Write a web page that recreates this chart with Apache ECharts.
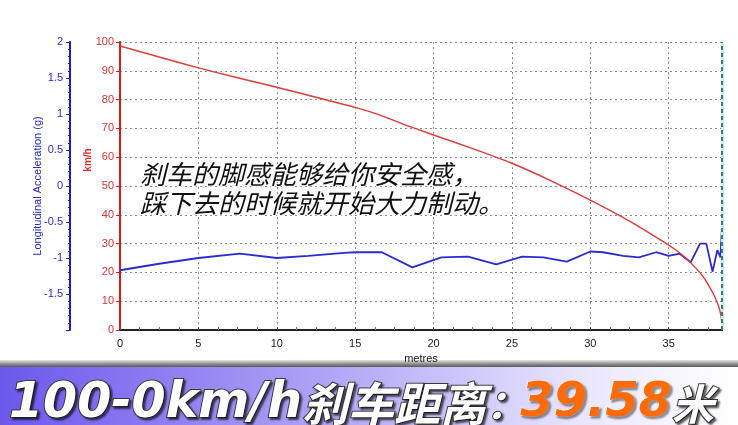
<!DOCTYPE html>
<html>
<head>
<meta charset="utf-8">
<script src="https://cdn.jsdelivr.net/npm/echarts@6/dist/echarts.min.js"></script>
<style>
html,body{margin:0;padding:0;background:#fff;}
#c{width:738px;height:425px;}
</style>
</head>
<body>
<div id="c"></div>
<script>
// Speed (km/h) vs distance (metres)
const speedDistance = [0, 2.5, 5, 7.5, 10, 12.5, 15, 16.6, 18, 20, 22.5, 25, 27.5, 30, 32.5, 35, 35.5, 36, 36.75, 37.2, 37.6, 37.9, 38.2, 38.35, 38.4];
const speedKmh      = [98.6, 94.8, 91, 87.6, 84.3, 80.8, 77.3, 74.6, 71.6, 67.7, 63, 57.9, 51.8, 45.1, 37.8, 29.5, 27.6, 25.4, 21.4, 18.5, 15, 12, 8, 4.5, 1.5];

// Longitudinal acceleration (g) vs distance (metres)
const accelDistance = [0, 2.5, 5, 7.65, 10, 12, 14.3, 15, 16.7, 18.65, 20.5, 22.2, 24.0, 25.65, 27, 28.5, 30, 30.8, 32.1, 33.1, 34.2, 35, 35.7, 36.4, 37.0, 37.4, 37.8, 38.1, 38.3, 38.4];
const accelG        = [-1.17, -1.08, -1.0, -0.94, -1.0, -0.97, -0.93, -0.92, -0.92, -1.13, -0.99, -0.98, -1.09, -0.98, -0.99, -1.05, -0.91, -0.92, -0.97, -0.99, -0.92, -0.97, -0.94, -1.06, -0.8, -0.8, -1.19, -0.89, -0.99, -0.56];

const xTicks = { min: 0, max: 38.4, interval: 5 };
const speedTicks = { min: 0, max: 100, interval: 10 };
const accelTicks = { min: -2, max: 2, interval: 0.5 };

const annotation = '刹车的脚感能够给你安全感，\n踩下去的时候就开始大力制动。';
const bannerParts = ['100-0km/h', '刹车距离', '：', '39.58', '米'];

const chart = echarts.init(document.getElementById('c'), null, {renderer: 'canvas'});

const gridDash = {color: '#8a8a8a', type: [2, 3], width: 1};
const shadowStyle = {textBorderColor: '#3a3a3a', textBorderWidth: 2, textShadowColor: 'rgba(0,0,0,0.55)', textShadowOffsetX: 2, textShadowOffsetY: 2, textShadowBlur: 2};

chart.setOption({
  backgroundColor: '#ffffff',
  animation: false,
  grid: {left: 120, right: 16, top: 42, bottom: 95, containLabel: false},
  graphic: [
    {
      type: 'rect', z: -1, silent: true,
      shape: {x: 0, y: 360, width: 738, height: 7},
      style: {fill: new echarts.graphic.LinearGradient(0, 0, 0, 1, [
        {offset: 0, color: '#e6e6e6'}, {offset: 0.6, color: '#8a8a8a'}, {offset: 1, color: '#5a5a5a'}
      ])}
    },
    {
      type: 'rect', z: -1, silent: true,
      shape: {x: 0, y: 367, width: 738, height: 58},
      style: {fill: new echarts.graphic.LinearGradient(0, 0, 1, 0, [
        {offset: 0, color: '#6a58ec'}, {offset: 0.45, color: '#b0a6f6'}, {offset: 0.8, color: '#ebe8fd'}, {offset: 1, color: '#ffffff'}
      ])}
    }
  ],
  title: [
    {
      text: annotation,
      left: 135, top: 155,
      textStyle: {
        fontFamily: '"Noto Sans CJK SC", sans-serif',
        fontSize: 26, fontWeight: 'normal', fontStyle: 'italic',
        color: '#111', lineHeight: 29,
        textBorderColor: '#fff', textBorderWidth: 2
      }
    },
    {
      text: '{a|' + bannerParts[0] + '}{b|' + bannerParts[1] + '}{e|' + bannerParts[2] + '}{c|' + bannerParts[3] + '}{d|' + bannerParts[4] + '}',
      left: 4, top: 375,
      textStyle: {
        rich: {
          a: Object.assign({fontFamily: '"DejaVu Sans", sans-serif', fontWeight: 'bold', fontStyle: 'italic', fontSize: 49, color: '#fff', lineHeight: 48}, shadowStyle),
          b: Object.assign({fontFamily: '"Noto Sans CJK SC", sans-serif', fontWeight: 'bold', fontStyle: 'italic', fontSize: 46, color: '#fff', lineHeight: 48}, shadowStyle),
          e: Object.assign({fontFamily: '"Noto Sans CJK SC", sans-serif', fontWeight: 'bold', fontStyle: 'italic', fontSize: 40, color: '#fff', lineHeight: 48, width: 34}, shadowStyle),
          c: {fontFamily: '"DejaVu Sans", sans-serif', fontWeight: 'bold', fontStyle: 'italic', fontSize: 48, color: '#ff6a0a', lineHeight: 48,
              textBorderColor: '#ffffff', textBorderWidth: 1, textShadowColor: 'rgba(0,0,0,0.4)', textShadowOffsetX: 2, textShadowOffsetY: 2, textShadowBlur: 2},
          d: Object.assign({fontFamily: '"Noto Sans CJK SC", sans-serif', fontWeight: 'bold', fontStyle: 'italic', fontSize: 42, color: '#fff', lineHeight: 48}, shadowStyle)
        }
      }
    }
  ],
  xAxis: [
    {
      type: 'value', position: 'bottom',
      min: xTicks.min, max: xTicks.max, interval: xTicks.interval,
      name: 'metres', nameLocation: 'middle', nameGap: 21,
      nameTextStyle: {fontFamily: '"Liberation Sans", Arial, sans-serif', fontSize: 11, color: '#222'},
      axisLine: {show: true, onZero: false, lineStyle: {color: '#111', width: 2}},
      axisTick: {show: true, inside: true, length: 3, lineStyle: {color: '#555'}},
      minorTick: {show: true, splitNumber: 4, length: 3, lineStyle: {color: '#777'}},
      axisLabel: {showMaxLabel: false, margin: 8, fontFamily: '"Liberation Sans", Arial, sans-serif', fontSize: 11, color: '#222'},
      splitLine: {show: true, lineStyle: gridDash}
    },
    {
      type: 'value', position: 'top',
      min: xTicks.min, max: xTicks.max,
      axisLine: {show: true, lineStyle: {color: '#222', width: 2}},
      axisTick: {show: false}, axisLabel: {show: false}, splitLine: {show: false}
    }
  ],
  yAxis: [
    {
      type: 'value', position: 'left',
      min: speedTicks.min, max: speedTicks.max, interval: speedTicks.interval,
      name: 'km/h', nameLocation: 'middle', nameGap: 27, nameRotate: 90, nameMoveOverlap: false,
      nameTextStyle: {fontFamily: '"Liberation Sans", Arial, sans-serif', fontSize: 10, fontWeight: 'bold', color: '#e02828', padding: [0, 0, 0, 52]},
      axisLine: {show: true, onZero: false, lineStyle: {color: '#e01818', width: 2}},
      axisTick: {show: true, length: 4, lineStyle: {color: '#e01818'}},
      axisLabel: {margin: 6, fontFamily: '"Liberation Sans", Arial, sans-serif', fontSize: 11, color: '#e03030'},
      splitLine: {show: true, lineStyle: gridDash}
    },
    {
      type: 'value', position: 'left', offset: 50,
      min: accelTicks.min, max: accelTicks.max, interval: accelTicks.interval,
      name: 'Longitudinal Acceleration (g)', nameLocation: 'middle', nameGap: 27, nameRotate: 90, nameMoveOverlap: false,
      nameTextStyle: {fontFamily: '"Liberation Sans", Arial, sans-serif', fontSize: 11, color: '#2828c8'},
      axisLine: {show: true, onZero: false, lineStyle: {color: '#1a1ad0', width: 2}},
      axisTick: {show: true, length: 4, lineStyle: {color: '#1a1ad0'}},
      minorTick: {show: true, splitNumber: 5, length: 2, lineStyle: {color: '#1a1ad0'}},
      axisLabel: {margin: 7, fontFamily: '"Liberation Sans", Arial, sans-serif', fontSize: 11, color: '#2a2acc',
                  formatter: v => (v === accelTicks.min ? '' : String(v))},
      splitLine: {show: false}
    }
  ],
  series: [
    {
      type: 'line', xAxisIndex: 0, yAxisIndex: 1, z: 3,
      data: accelDistance.map((d, i) => [d, accelG[i]]),
      symbol: 'none', smooth: false,
      lineStyle: {color: '#2b2bd0', width: 1.8}
    },
    {
      type: 'line', xAxisIndex: 0, yAxisIndex: 0, z: 4,
      data: speedDistance.map((d, i) => [d, speedKmh[i]]),
      symbol: 'none', smooth: 0.2,
      lineStyle: {color: '#e33a3a', width: 1.4},
      markLine: {
        silent: true, symbol: ['none', 'none'], label: {show: false},
        data: [
          {xAxis: xTicks.max, lineStyle: {color: '#bff0f0', width: 3, type: 'solid'}},
          {xAxis: xTicks.max, lineStyle: {color: '#2a4a4a', width: 1.5, type: [4, 3]}}
        ]
      }
    }
  ]
});
</script>
</body>
</html>
